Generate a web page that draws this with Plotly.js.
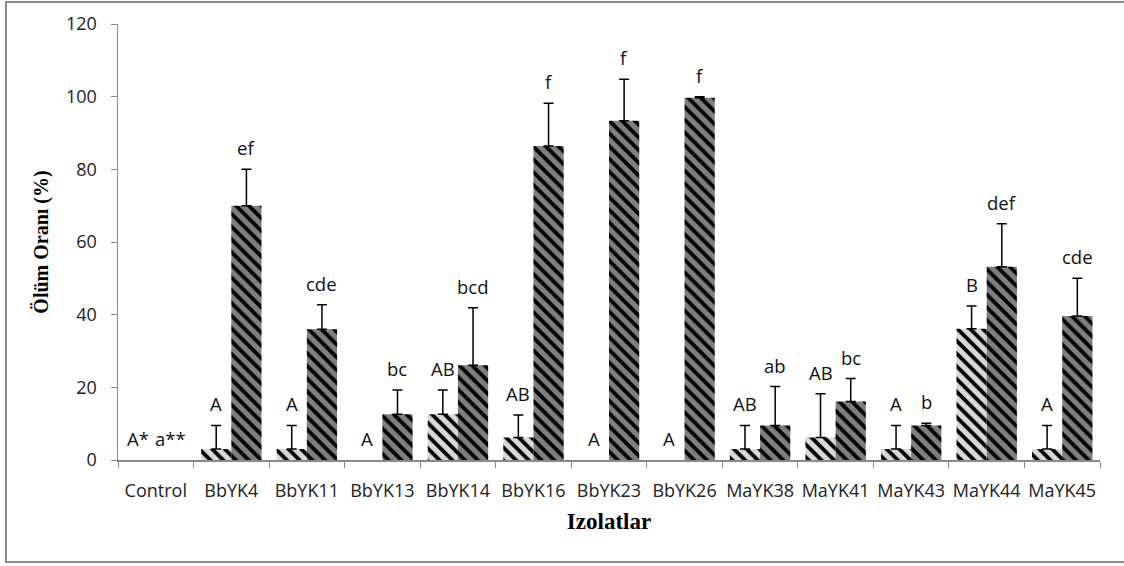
<!DOCTYPE html>
<html>
<head>
<meta charset="utf-8">
<script src="https://cdn.plot.ly/plotly-3.0.1.min.js"></script>
<style>
  html, body { margin: 0; padding: 0; background: #fff; }
  #chart { position: absolute; left: 0; top: 0; width: 1124px; height: 566px; }
  #frame { position: absolute; left: 5px; top: 1px; width: 1119px; height: 562px; box-sizing: border-box;
           border: 2px solid #8c8c8c; border-right: none; pointer-events: none; }
</style>
</head>
<body>
<div id="chart"></div>
<div id="frame"></div>
<script>
const categories = ['Control','BbYK4','BbYK11','BbYK13','BbYK14','BbYK16','BbYK23','BbYK26','MaYK38','MaYK41','MaYK43','MaYK44','MaYK45'];
const lightValues = [0, 3, 3, 0, 12.6, 6.2, 0, 0, 3, 6.2, 3, 36.1, 3];
const lightErrors = [0, 6.5, 6.5, 0, 6.7, 6.2, 0, 0, 6.5, 12, 6.5, 6.3, 6.5];
const darkValues  = [0, 70, 36, 12.6, 26.1, 86.4, 93.4, 99.7, 9.5, 16.1, 9.5, 53.2, 39.6];
const darkErrors  = [0, 10, 6.7, 6.7, 15.8, 11.8, 11.4, 0.3, 10.7, 6.3, 0.6, 11.8, 10.4];
const lightLabels = ['A*','A','A','A','AB','AB','A','A','AB','AB','A','B','A'];
const darkLabels  = ['a**','ef','cde','bc','bcd','f','f','f','ab','bc','b','def','cde'];
const yTicks = [0, 20, 40, 60, 80, 100, 120];

const tickFont = {family: 'Open Sans, Noto Sans, sans-serif', size: 18, color: '#222'};
const labelFont = {family: 'Open Sans, Noto Sans, sans-serif', size: 18.5, color: '#111'};

function barTrace(vals, errs, bg) {
  return {
    type: 'bar', x: categories, y: vals.map(v => v > 0 ? v : null),
    marker: {color: bg, line: {width: 0},
             pattern: {shape: '\\', fgcolor: '#000000', bgcolor: bg, size: 9, solidity: 0.42, fillmode: 'replace'}},
    error_y: {type: 'data', symmetric: false, array: errs.map(e => e > 0 ? e : null), arrayminus: errs.map(() => 0),
              color: '#000', thickness: 1.5, width: 5},
    hoverinfo: 'skip'
  };
}

const plotW = 1124 - 118 - 24;
const bandW = plotW / categories.length;
const barW = bandW * 0.8 / 2;

const annotations = [];
categories.forEach((c, i) => {
  annotations.push({x: c, y: lightValues[i] + lightErrors[i], text: lightLabels[i], showarrow: false,
    xanchor: 'center', yanchor: 'bottom', xshift: -barW / 2 - (i === 0 ? 3 : 0), yshift: 7, font: labelFont});
  annotations.push({x: c, y: darkValues[i] + darkErrors[i], text: darkLabels[i], showarrow: false,
    xanchor: 'center', yanchor: 'bottom', xshift: barW / 2, yshift: 7, font: labelFont});
});

const layout = {
  width: 1124, height: 566,
  margin: {l: 118, r: 24, t: 23.5, b: 105.5},
  paper_bgcolor: '#ffffff', plot_bgcolor: '#ffffff',
  barmode: 'group', bargap: 0.2, bargroupgap: 0,
  showlegend: false,
  xaxis: {
    type: 'category', showline: true, linecolor: '#8a8a8a', linewidth: 1.5,
    ticks: 'outside', tickson: 'boundaries', ticklen: 6, tickcolor: '#8a8a8a', tickangle: 0,
    showgrid: false, zeroline: false, tickfont: tickFont, ticklabelstandoff: 14,
    title: {text: 'Izolatlar', font: {family: 'Liberation Serif, Times New Roman, serif', size: 23, color: '#000', weight: 'bold'}, standoff: 12}
  },
  yaxis: {
    range: [0, 120], tickvals: yTicks, ticktext: yTicks.map(String),
    showline: true, linecolor: '#8a8a8a', linewidth: 1.5,
    ticks: 'outside', ticklen: 6, tickcolor: '#8a8a8a',
    showgrid: false, zeroline: false, tickfont: tickFont, ticklabelstandoff: 10,
    title: {text: 'Ölüm Oranı (%)', font: {family: 'Liberation Serif, Times New Roman, serif', size: 20, color: '#000', weight: 'bold'}, standoff: 12}
  },
  annotations: annotations
};

Plotly.newPlot('chart', [barTrace(lightValues, lightErrors, '#d9d9d9'), barTrace(darkValues, darkErrors, '#7f7f7f')], layout, {staticPlot: true});
</script>
</body>
</html>
